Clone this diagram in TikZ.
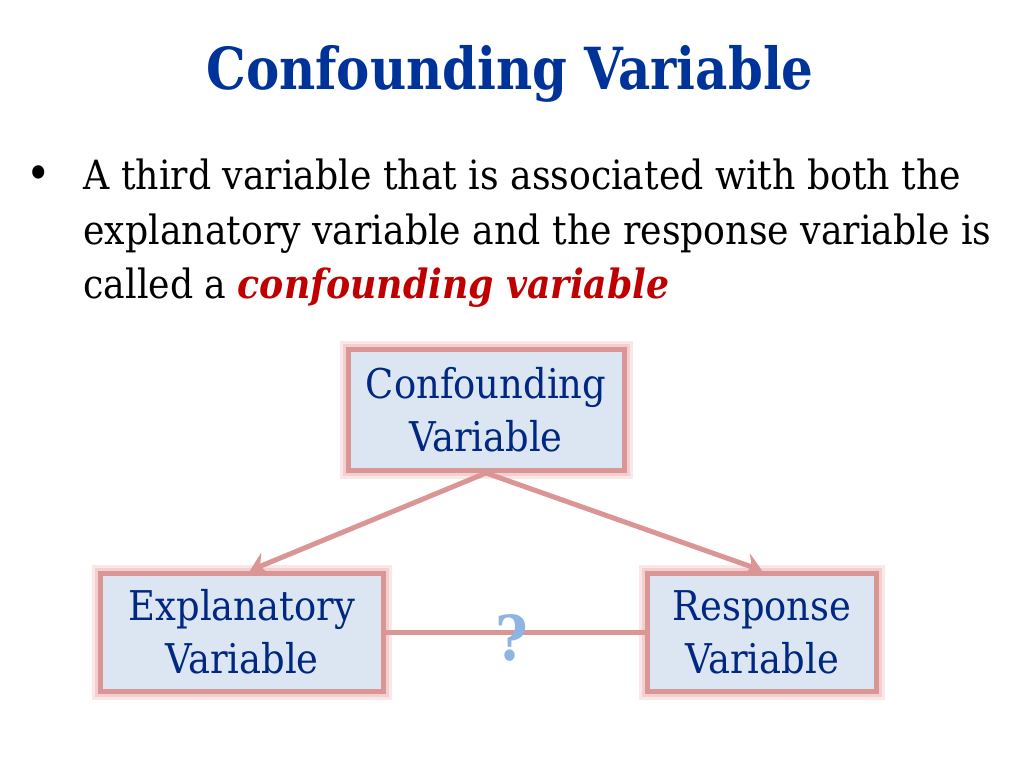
\documentclass[tikz,border=0pt]{standalone}
\usepackage{fontspec}
\setmainfont{DejaVu Serif Condensed}
\newfontfamily\titlefont[FakeStretch=0.955]{DejaVu Serif Condensed}
\usetikzlibrary{arrows.meta}

\definecolor{titleblue}{RGB}{0,51,153}
\definecolor{boxtext}{RGB}{0,40,130}
\definecolor{keyred}{RGB}{192,0,0}
\definecolor{boxfill}{RGB}{220,230,242}
\definecolor{boxline}{RGB}{217,150,148}
\definecolor{glowred}{RGB}{240,190,190}
\definecolor{qblue}{RGB}{142,180,227}

\tikzset{
  varbox/.style={draw=boxline, line width=5pt, fill=boxfill, align=center,
    text=boxtext, font=\fontsize{41}{53}\selectfont, inner sep=0pt,
    preaction={draw=glowred, line width=17pt, opacity=0.35},
    preaction={draw=glowred, line width=11pt, opacity=0.6}},
  link/.style={draw=boxline, line width=5pt},
  bodytext/.style={anchor=base west, font=\fontsize{40.3}{54}\selectfont},
}

\begin{document}
\begin{tikzpicture}[x=1pt,y=-1pt]
\useasboundingbox (0,0) rectangle (1024,768);

\node[text=titleblue,font=\fontsize{58}{60}\titlefont\bfseries,anchor=base] (title) at (510,89) {Confounding Variable};

\node[anchor=base,font=\fontsize{46}{54}\selectfont] (dot) at (39,189) {•};
\node[bodytext] (line1) at (80,189) {A third variable that is associated with both the};
\node[bodytext] (line2) at (80,244) {explanatory variable and the response variable is};
\node[bodytext] (line3) at (80,298) {called a \textcolor{keyred}{\bfseries\itshape confounding variable}};

\node[varbox,minimum width=276pt,minimum height=121pt] (conf) at (486,410) {Confounding\\Variable};
\node[varbox,minimum width=283pt,minimum height=118pt] (expl) at (242,632) {Explanatory\\Variable};
\node[varbox,minimum width=229pt,minimum height=118pt] (resp) at (762,632) {Response\\Variable};

\draw[link,-{Stealth[length=17pt,width=24pt,inset=6pt]}] (conf.south) -- ([xshift=8pt]expl.north);
\draw[link,-{Stealth[length=17pt,width=24pt,inset=6pt]}] (conf.south) -- (resp.north);
\draw[link] (expl.east) -- (resp.west);

\node[text=qblue,font=\fontsize{62}{62}\selectfont\bfseries] (ques) at (512,638) {?};
\end{tikzpicture}
\end{document}
